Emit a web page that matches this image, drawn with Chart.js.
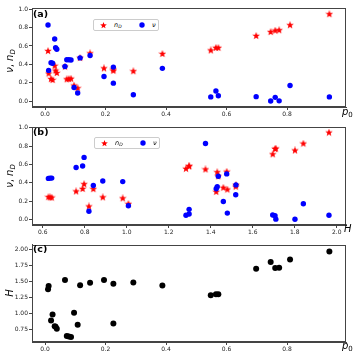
<!DOCTYPE html>
<html>
<head>
<meta charset="utf-8">
<script src="https://cdn.jsdelivr.net/npm/chart.js@4"></script>
<style>
  body { margin: 0; width: 360px; height: 360px; background: #fff; position: relative; overflow: hidden; font-family: "DejaVu Sans", sans-serif; color: #000; }
  canvas.panel { position: absolute; left: 0; }
  .lbl { position: absolute; white-space: nowrap; line-height: 1; }
  .tag { font-weight: bold; font-size: 9.5px; }
  .ylab { font-size: 10px; transform: translate(-50%, -50%) rotate(-90deg); }
  .xlab { font-size: 10px; }
  .legend { position: absolute; width: 64px; height: 10px; border: 1px solid #ccc; border-radius: 2px; background: #fff; font-size: 6.5px; }
  .legend span, .legend canvas { position: absolute; }
  sub { font-size: 70%; vertical-align: -0.25em; }
</style>
</head>
<body>
<canvas id="chartA" class="panel" width="360" height="120" style="top:0"></canvas>
<canvas id="chartB" class="panel" width="360" height="120" style="top:120px"></canvas>
<canvas id="chartC" class="panel" width="360" height="120" style="top:240px"></canvas>

<div class="lbl tag" style="left:33px;top:9px">(a)</div>
<div class="lbl tag" style="left:33px;top:127px">(b)</div>
<div class="lbl tag" style="left:33px;top:244px">(c)</div>

<div class="lbl ylab" style="left:11px;top:61px"><i>ν</i>, <i>n</i><sub><i>D</i></sub></div>
<div class="lbl ylab" style="left:11px;top:176px"><i>ν</i>, <i>n</i><sub><i>D</i></sub></div>
<div class="lbl ylab" style="left:10px;top:293px"><i>H</i></div>

<div class="lbl xlab" style="left:342px;top:107px"><i>p</i><sub>0</sub></div>
<div class="lbl xlab" style="left:344px;top:224px"><i>H</i></div>
<div class="lbl xlab" style="left:342px;top:341px"><i>p</i><sub>0</sub></div>

<div class="legend" id="legA" style="left:93px;top:19px"></div>
<div class="legend" id="legB" style="left:94px;top:137px"></div>

<script>
// data, one entry per sample, sorted by p0
const p0 = [0.010, 0.012, 0.020, 0.025, 0.032, 0.035, 0.039, 0.066, 0.072, 0.079, 0.086, 0.096, 0.108, 0.116, 0.149,
            0.195, 0.226, 0.226, 0.292, 0.388, 0.548, 0.565, 0.573, 0.698, 0.746, 0.761, 0.774, 0.810, 0.940];
const H = [1.375, 1.426, 0.886, 0.981, 0.797, 0.790, 0.759, 1.520, 0.643, 0.635, 0.627, 1.008, 0.820, 1.436, 1.476,
           1.519, 0.841, 1.460, 1.479, 1.431, 1.282, 1.297, 1.297, 1.695, 1.801, 1.706, 1.710, 1.841, 1.963];
const nD = [0.545, 0.300, 0.240, 0.229, 0.384, 0.332, 0.305, 0.375, 0.237, 0.240, 0.243, 0.168, 0.140, 0.470, 0.520,
            0.356, 0.330, 0.345, 0.325, 0.514, 0.552, 0.580, 0.580, 0.710, 0.752, 0.768, 0.772, 0.827, 0.947];
const nu = [0.828, 0.334, 0.418, 0.412, 0.676, 0.582, 0.565, 0.376, 0.450, 0.450, 0.447, 0.148, 0.088, 0.470, 0.496,
            0.268, 0.370, 0.195, 0.068, 0.356, 0.045, 0.109, 0.058, 0.048, 0.000, 0.040, 0.002, 0.170, 0.045];

const p0Ticks = [0.0, 0.2, 0.4, 0.6, 0.8];
const hTicks = [0.6, 0.8, 1.0, 1.2, 1.4, 1.6, 1.8, 2.0];
const fracTicks = [0.0, 0.2, 0.4, 0.6, 0.8, 1.0];
const hTicksY = [0.75, 1.00, 1.25, 1.50, 1.75, 2.00];

const AXIS = '#444';

// filled 5 point star, used as point style
function makeStar(size, color) {
  const c = document.createElement('canvas');
  c.width = size; c.height = size;
  const g = c.getContext('2d');
  const cx = size / 2, cy = size / 2, ro = size / 2, ri = ro * 0.42;
  g.beginPath();
  for (let i = 0; i < 10; i++) {
    const r = i % 2 ? ri : ro;
    const a = -Math.PI / 2 + i * Math.PI / 5;
    g.lineTo(cx + r * Math.cos(a), cy + r * Math.sin(a));
  }
  g.closePath();
  g.fillStyle = color;
  g.fill();
  return c;
}

function makeDot(size, color) {
  const c = document.createElement('canvas');
  c.width = size; c.height = size;
  const g = c.getContext('2d');
  g.beginPath();
  g.arc(size / 2, size / 2, size / 2 - 0.3, 0, Math.PI * 2);
  g.fillStyle = color;
  g.fill();
  return c;
}

function pairs(xs, ys) {
  return xs.map((x, i) => ({ x: x, y: ys[i] }));
}

function axis(min, max, ticks, digits, fit) {
  return {
    type: 'linear',
    min: min,
    max: max,
    afterBuildTicks: (s) => { s.ticks = ticks.map((v) => ({ value: v })); },
    afterFit: fit,
    ticks: {
      font: { size: 6, family: 'DejaVu Sans' },
      color: '#222',
      padding: 1,
      maxRotation: 0,
      autoSkip: false,
      callback: (v) => Number(v).toFixed(digits),
    },
    grid: { display: true, drawOnChartArea: false, drawTicks: true, tickLength: 3, color: AXIS },
    border: { display: true, color: AXIS },
  };
}

const frame = {
  id: 'frame',
  afterDraw(chart) {
    const a = chart.chartArea, ctx = chart.ctx;
    ctx.save();
    ctx.strokeStyle = AXIS;
    ctx.lineWidth = 1;
    ctx.strokeRect(Math.round(a.left) + 0.5, Math.round(a.top) + 0.5,
                   Math.round(a.right - a.left) - 1, Math.round(a.bottom - a.top) - 1);
    ctx.restore();
  },
};

function makeChart(id, datasets, xAxis, yAxis, padTop) {
  return new Chart(document.getElementById(id), {
    type: 'scatter',
    data: { datasets: datasets },
    options: {
      responsive: false,
      animation: false,
      devicePixelRatio: 1,
      layout: { padding: { top: padTop, right: 14, left: 0, bottom: 0 } },
      plugins: { legend: { display: false }, tooltip: { enabled: false } },
      scales: { x: xAxis, y: yAxis },
    },
    plugins: [frame],
  });
}

const star = makeStar(8, '#ff0000');

function twoSeries(xs) {
  return [
    { label: 'n_D', data: pairs(xs, nD), pointStyle: star, pointRadius: 4, order: 2 },
    { label: 'ν', data: pairs(xs, nu), pointStyle: 'circle', pointRadius: 2.7, borderWidth: 0,
      backgroundColor: '#0000ff', order: 1 },
  ];
}

// (a) nu, nD against p0
makeChart('chartA', twoSeries(p0),
  axis(-0.043, 0.995, p0Ticks, 1, (s) => { s.height = 13; }),
  axis(-0.065, 1.014, fracTicks, 1, (s) => { s.width = 32; }), 8);

// (b) nu, nD against H
makeChart('chartB', twoSeries(H),
  axis(0.549, 2.044, hTicks, 1, (s) => { s.height = 15; }),
  axis(-0.062, 1.008, fracTicks, 1, (s) => { s.width = 32; }), 7);

// (c) H against p0
makeChart('chartC', [
    { label: 'H', data: pairs(p0, H), pointStyle: 'circle', pointRadius: 3, borderWidth: 0, backgroundColor: '#000' },
  ],
  axis(-0.043, 0.995, p0Ticks, 1, (s) => { s.height = 18; }),
  axis(0.55, 2.072, hTicksY, 2, (s) => { s.width = 32; }), 3);

// legends
function fillLegend(id) {
  const box = document.getElementById(id);
  const s = makeStar(7, '#ff0000');
  s.style.left = '6px'; s.style.top = '1.5px';
  const d = makeDot(6, '#0000ff');
  d.style.left = '45px'; d.style.top = '2px';
  const t1 = document.createElement('span');
  t1.innerHTML = '<i>n</i><sub><i>D</i></sub>';
  t1.style.left = '20px'; t1.style.top = '1px';
  const t2 = document.createElement('span');
  t2.innerHTML = '<i>ν</i>';
  t2.style.left = '58px'; t2.style.top = '1px';
  box.append(s, t1, d, t2);
}
fillLegend('legA');
fillLegend('legB');
</script>
</body>
</html>
